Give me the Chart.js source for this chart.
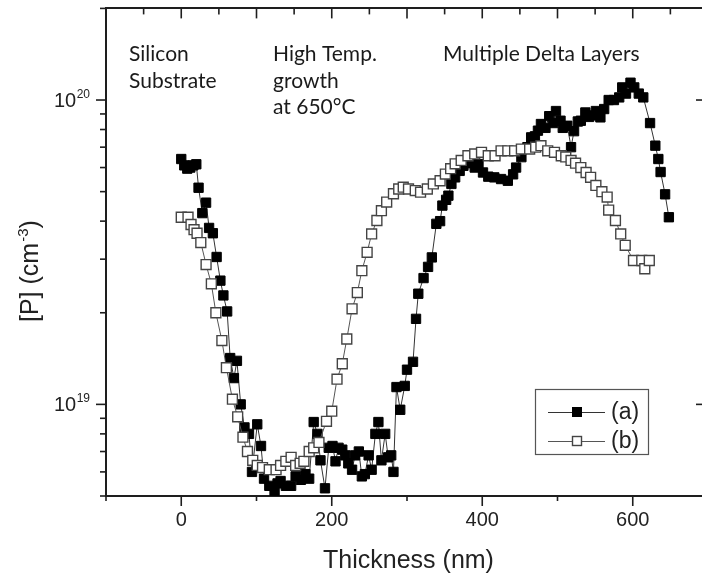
<!DOCTYPE html>
<html><head><meta charset="utf-8">
<script src="https://cdn.jsdelivr.net/npm/chart.js@4.4.1/dist/chart.umd.min.js"></script>
<style>
html,body{margin:0;padding:0;overflow:hidden;background:#fff;width:702px;height:574px}
#wrap{position:absolute;left:0;top:0;width:720px;height:574px}
canvas{display:block}
</style></head>
<body><div id="wrap"><canvas id="c" width="720" height="574"></canvas></div>
<script>
// ---------- DATA ----------
const thicknessA = [
  0,4,8,12,16,20,23,28,33,37,
  42,47,52,56,61,65,70,74,79,84,
  90,94,101,106,110,117,124,128,132,139,
  146,152,159,165,170,176,181,185,191,196,
  201,205,209,214,218,222,227,231,236,240,
  244,249,253,258,262,266,271,275,279,282,
  286,291,297,300,308,312,315,322,328,333,
  339,344,347,352,355,359,364,370,375,381,
  386,390,395,401,408,416,425,434,441,445,
  452,460,465,470,474,478,484,489,494,498,
  504,507,513,518,522,527,531,537,542,546,
  551,557,562,568,575,582,586,591,597,602,
  608,614,623,630,634,637,643,648
];
const concA = [
  6.4e19,6.1e19,5.95e19,6.0e19,6.1e19,6.15e19,5.15e19,4.25e19,4.6e19,3.8e19,
  3.65e19,3.05e19,2.55e19,2.28e19,2.02e19,1.42e19,1.22e19,1.39e19,1.0e19,8.4e18,
  8.0e18,6.0e18,8.6e18,7.3e18,5.7e18,5.4e18,5.2e18,5.5e18,5.6e18,5.4e18,
  5.4e18,5.8e18,5.65e18,5.9e18,5.7e18,8.75e18,8.0e18,6.55e18,5.3e18,7.2e18,
  7.3e18,6.5e18,7.2e18,7.1e18,6.8e18,6.4e18,6.1e18,6.8e18,7.0e18,5.8e18,
  5.9e18,6.8e18,6.1e18,8.0e18,8.75e18,6.55e18,8.0e18,6.7e18,6.8e18,6.0e18,
  1.14e19,9.6e18,1.15e19,1.3e19,1.38e19,1.91e19,2.31e19,2.6e19,2.83e19,3.04e19,
  3.92e19,4.0e19,4.5e19,4.7e19,4.85e19,5.3e19,5.57e19,5.85e19,6.08e19,6.2e19,
  6.33e19,6.0e19,6.16e19,5.78e19,5.6e19,5.57e19,5.5e19,5.43e19,5.7e19,6.0e19,
  6.49e19,7.0e19,7.54e19,7.6e19,7.93e19,8.34e19,8.1e19,8.85e19,8.4e19,9.2e19,
  8.55e19,8.1e19,8.23e19,7.0e19,7.9e19,8.5e19,8.55e19,9.1e19,8.8e19,8.9e19,
  9.2e19,8.77e19,9.34e19,1.0e20,1.0e20,1.02e20,1.1e20,1.05e20,1.14e20,1.1e20,
  1.05e20,1.02e20,8.4e19,7.08e19,6.4e19,5.8e19,4.9e19,4.12e19
];
const thicknessB = [
  0,9,13,17,21,26,33,40,46,54,
  60,68,75,82,88,95,101,108,117,126,
  132,139,146,152,158,163,170,176,183,193,
  200,207,214,220,227,234,240,247,253,260,
  266,273,282,289,295,302,311,318,327,335,
  344,351,358,364,372,381,390,399,408,417,
  425,434,443,452,463,471,478,487,496,505,
  511,518,524,531,538,544,551,559,566,568,
  577,584,590,601,612,616,622
];
const concB = [
  4.12e19,4.12e19,3.9e19,3.75e19,3.65e19,3.4e19,2.88e19,2.49e19,2.0e19,1.62e19,
  1.32e19,1.04e19,9.1e18,7.8e18,7.0e18,6.55e18,6.3e18,6.2e18,6.1e18,6.1e18,
  6.3e18,6.5e18,6.7e18,6.3e18,6.4e18,6.5e18,7.0e18,7.2e18,7.5e18,8.8e18,
  9.5e18,1.21e19,1.36e19,1.64e19,2.06e19,2.33e19,2.75e19,3.16e19,3.63e19,4.02e19,
  4.33e19,4.62e19,4.92e19,5.1e19,5.17e19,5.1e19,5.04e19,4.98e19,5.1e19,5.3e19,
  5.43e19,5.71e19,5.95e19,6.17e19,6.33e19,6.56e19,6.65e19,6.73e19,6.56e19,6.56e19,
  6.81e19,6.81e19,6.81e19,6.9e19,6.9e19,7.0e19,7.08e19,6.81e19,6.73e19,6.56e19,
  6.5e19,6.33e19,6.2e19,6.0e19,5.78e19,5.57e19,5.24e19,5.0e19,4.8e19,4.35e19,
  4.02e19,3.63e19,3.33e19,2.97e19,2.97e19,2.79e19,2.97e19
];
const seriesLabels = ['(a)', '(b)'];
const xBottomTicks = [-100,0,100,200,300,400,500,600,700];
const xBottomLabels = ['', '0', '', '200', '', '400', '', '600', ''];
const xTopTicks = [-100,-50,0,50,100,150,200,250,300,350,400,450,500,550,600,650,700];
const yTicks = [5e18,6e18,7e18,8e18,9e18,1e19,2e19,3e19,4e19,5e19,6e19,7e19,8e19,9e19,1e20,2e20];
const yDecades = [1e19, 1e20];
const yDecadeLabels = [['10','19'], ['10','20']];
const xTitle = 'Thickness (nm)';
const yTitle = ['[P] (cm', '-3', ')'];
const notes = [
  ['Silicon', 'Substrate'],
  ['High Temp.', 'growth', 'at 650°C'],
  ['Multiple Delta Layers']
];

// ---------- CHART ----------
const ptsA = thicknessA.map((t, i) => ({x: t, y: concA[i]}));
const ptsB = thicknessB.map((t, i) => ({x: t, y: concB[i]}));
const AX = '#1e1e1e';
const SANS = '"Liberation Sans", Arial, sans-serif';
const NOTE = 'Lato, "Open Sans", sans-serif';

const decor = {
  id: 'decor',
  afterDraw(chart) {
    const {ctx, chartArea: a, scales} = chart;
    const x = scales.x, y = scales.y;
    ctx.save();
    ctx.strokeStyle = AX; ctx.lineWidth = 1.6; ctx.lineCap = 'butt';
    const seg = (x1, y1, x2, y2) => { ctx.beginPath(); ctx.moveTo(x1, y1); ctx.lineTo(x2, y2); ctx.stroke(); };
    // bottom ticks (outward)
    xBottomTicks.forEach(v => {
      const px = x.getPixelForValue(v);
      seg(px, a.bottom, px, a.bottom + (v % 200 === 0 ? 10 : 5));
    });
    // top ticks (inward)
    xTopTicks.forEach(v => {
      const px = x.getPixelForValue(v);
      seg(px, a.top, px, a.top + (v % 100 === 0 ? 10 : 6));
    });
    // left / right ticks
    yTicks.forEach(v => {
      const py = y.getPixelForValue(v);
      const major = yDecades.includes(v);
      seg(a.left, py, a.left - (major ? 10 : 6), py);
      seg(a.right, py, a.right - (major ? 12 : 6), py);
    });
    // y decade labels with superscript
    ctx.fillStyle = '#222';
    ctx.textBaseline = 'alphabetic';
    yDecades.forEach((v, i) => {
      const py = y.getPixelForValue(v);
      ctx.font = '12px ' + SANS;
      const sw = ctx.measureText(yDecadeLabels[i][1]).width;
      ctx.textAlign = 'left';
      ctx.fillText(yDecadeLabels[i][1], 90 - sw, py - 2);
      ctx.font = '20px ' + SANS;
      ctx.textAlign = 'right';
      ctx.fillText(yDecadeLabels[i][0], 90 - sw - 0.5, py + 7);
    });
    // x title
    ctx.font = '25px ' + SANS;
    ctx.textAlign = 'center';
    ctx.fillText(xTitle, 408.5, 568);
    // y title (rotated)
    ctx.save();
    ctx.translate(38, 322);
    ctx.rotate(-Math.PI / 2);
    ctx.textAlign = 'left';
    ctx.font = '25px ' + SANS;
    let w = 0;
    ctx.fillText(yTitle[0], 0, 0); w += ctx.measureText(yTitle[0]).width;
    ctx.font = '15px ' + SANS;
    ctx.fillText(yTitle[1], w + 1, -10); w += ctx.measureText(yTitle[1]).width + 1;
    ctx.font = '25px ' + SANS;
    ctx.fillText(yTitle[2], w, 0);
    ctx.restore();
    // annotations
    ctx.font = '21px ' + NOTE;
    ctx.textAlign = 'left';
    ctx.fillStyle = '#1a1a1a';
    const noteX = [129, 273, 443];
    const rowY = [61, 87.5, 114];
    notes.forEach((lines, k) => lines.forEach((s, j) => ctx.fillText(s, noteX[k], rowY[j])));
    // legend
    ctx.lineWidth = 1.2; ctx.strokeStyle = '#555';
    ctx.strokeRect(535.5, 389.5, 113, 65);
    const rows = [412, 441];
    const dsets = chart.data.datasets;
    const legendOrder = [1, 0];
    rows.forEach((ry, i) => {
      const ds = dsets[legendOrder[i]];
      ctx.strokeStyle = ds.borderColor; ctx.lineWidth = 1;
      seg(548, ry + 0.5, 605, ry + 0.5);
      const s = 9;
      ctx.fillStyle = ds.pointBackgroundColor;
      ctx.fillRect(577 - s / 2, ry - s / 2, s, s);
      ctx.strokeStyle = ds.pointBorderColor; ctx.lineWidth = ds.pointBorderWidth;
      ctx.strokeRect(577 - s / 2, ry - s / 2, s, s);
      ctx.fillStyle = '#222';
      ctx.font = '23px ' + SANS;
      ctx.textAlign = 'left'; ctx.textBaseline = 'middle';
      ctx.fillText(ds.label, 611, ry + 1);
    });
    ctx.restore();
  }
};

const axisBase = {
  grid: {display: false, drawTicks: false},
  border: {display: true, color: AX, width: 2}
};

new Chart(document.getElementById('c'), {
  type: 'scatter',
  data: {
    datasets: [
      {
        label: seriesLabels[1], data: ptsB, showLine: true,
        borderColor: '#555', borderWidth: 1,
        pointStyle: 'rect', pointRadius: 7,
        pointBackgroundColor: '#fff', pointBorderColor: '#444', pointBorderWidth: 1.4,
        order: 1
      },
      {
        label: seriesLabels[0], data: ptsA, showLine: true,
        borderColor: '#333', borderWidth: 1,
        pointStyle: 'rect', pointRadius: 6.6,
        pointBackgroundColor: '#000', pointBorderColor: '#000', pointBorderWidth: 1,
        order: 2
      }
    ]
  },
  options: {
    responsive: false, animation: false, devicePixelRatio: 1,
    layout: {padding: 0},
    plugins: {legend: {display: false}, tooltip: {enabled: false}},
    scales: {
      x: Object.assign({}, axisBase, {
        type: 'linear', position: 'bottom', min: -100, max: 700,
        ticks: {
          autoSkip: false, maxRotation: 0, padding: 12, color: '#222',
          font: {family: SANS, size: 20},
          callback: (v) => { const i = xBottomTicks.indexOf(v); return i >= 0 ? xBottomLabels[i] : ''; }
        },
        afterBuildTicks: (s) => { s.ticks = xBottomTicks.map(v => ({value: v})); },
        afterFit: (s) => { s.height = 78; }
      }),
      x2: Object.assign({}, axisBase, {
        type: 'linear', position: 'top', min: -100, max: 700,
        ticks: {display: false},
        afterFit: (s) => { s.height = 8; }
      }),
      y: Object.assign({}, axisBase, {
        type: 'logarithmic', position: 'left', min: 5e18, max: 2e20,
        ticks: {display: false},
        afterFit: (s) => { s.width = 106; }
      }),
      y2: Object.assign({}, axisBase, {
        type: 'logarithmic', position: 'right', min: 5e18, max: 2e20,
        ticks: {display: false},
        afterFit: (s) => { s.width = 9; }
      })
    }
  },
  plugins: [decor]
});
</script>
</body></html>
